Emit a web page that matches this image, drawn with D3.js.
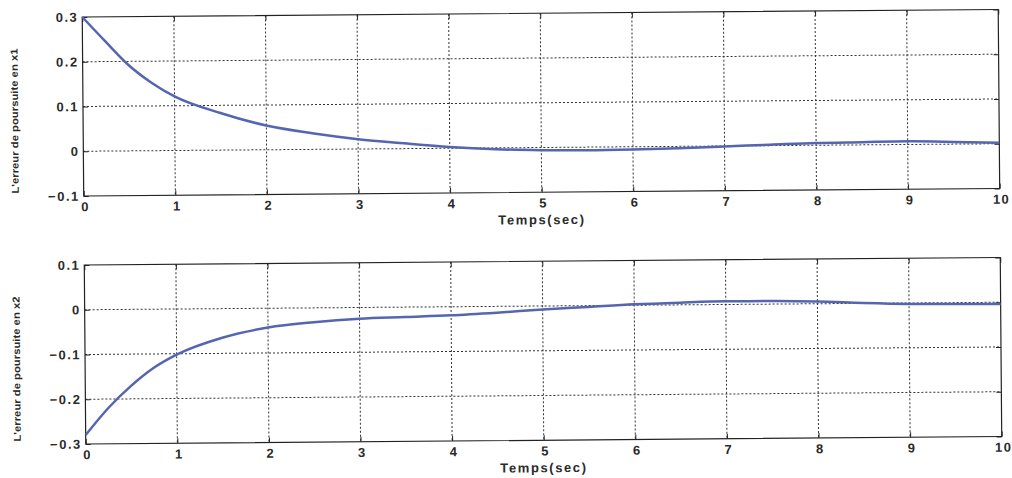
<!DOCTYPE html>
<html>
<head>
<meta charset="utf-8">
<script src="https://cdn.jsdelivr.net/npm/d3@7"></script>
<style>
  html, body { margin: 0; padding: 0; background: #fff; }
  svg { display: block; }
  .tick text { font-family: "Liberation Sans", Arial, sans-serif; font-weight: bold; font-size: 13px; letter-spacing: 1.5px; fill: #2a2a2a; }
  .xlab { font-family: "Liberation Sans", Arial, sans-serif; font-weight: bold; font-size: 13px; letter-spacing: 1.6px; fill: #2a2a2a; }
  .ylab { font-family: "Liberation Sans", Arial, sans-serif; font-weight: bold; font-size: 10px; fill: #2a2a2a; }
</style>
</head>
<body>
<script>
// Time samples (s)
const time = [0, 0.25, 0.5, 0.75, 1, 1.5, 2, 2.5, 3, 3.5, 4, 4.5, 5, 5.5, 6, 6.5, 7, 7.5, 8, 8.5, 9, 9.5, 10];
// Tracking error on x1
const errX1 = [0.3, 0.245, 0.192, 0.152, 0.121, 0.083, 0.054, 0.036, 0.022, 0.012, 0.003, -0.003, -0.006, -0.007, -0.006, -0.004, -0.001, 0.002, 0.005, 0.006, 0.007, 0.005, 0.002];
// Tracking error on x2
const errX2 = [-0.28, -0.22, -0.171, -0.131, -0.102, -0.065, -0.043, -0.032, -0.025, -0.022, -0.019, -0.014, -0.008, -0.003, 0.002, 0.005, 0.007, 0.007, 0.005, 0.001, -0.002, -0.003, -0.004];

const xTicks = [0, 1, 2, 3, 4, 5, 6, 7, 8, 9, 10];
const yTicksTop = [-0.1, 0, 0.1, 0.2, 0.3];
const yTicksBottom = [-0.3, -0.2, -0.1, 0, 0.1];
const yLabels = ["L'erreur de poursuite en x1", "L'erreur de poursuite en x2"];
const xLabel = "Temps(sec)";

const W = 1012, H = 478;
const svg = d3.select("body").append("svg").attr("width", W).attr("height", H);
// whole figure sits slightly tilted
const root = svg.append("g").attr("transform", "rotate(-0.47, 84, 230)");

const left = 84, right = 1000;
const panels = [
  { top: 17, bottom: 196, dom: [-0.1, 0.3], ticks: yTicksTop, data: errX1, label: yLabels[0] },
  { top: 265, bottom: 444, dom: [-0.3, 0.1], ticks: yTicksBottom, data: errX2, label: yLabels[1] }
];

const x = d3.scaleLinear().domain([0, 10]).range([left, right]);
const fmt = d => d === 0 ? "0" : d3.format(".1f")(d);

panels.forEach(p => {
  const y = d3.scaleLinear().domain(p.dom).range([p.bottom, p.top]);
  const g = root.append("g");

  // dotted grid
  g.append("g").selectAll("line").data(xTicks.slice(1, -1)).join("line")
    .attr("x1", d => x(d)).attr("x2", d => x(d)).attr("y1", p.top).attr("y2", p.bottom)
    .attr("stroke", "#333").attr("stroke-width", 1).attr("stroke-dasharray", "2,2");
  g.append("g").selectAll("line").data(p.ticks.slice(1, -1)).join("line")
    .attr("y1", d => y(d)).attr("y2", d => y(d)).attr("x1", left).attr("x2", right)
    .attr("stroke", "#333").attr("stroke-width", 1).attr("stroke-dasharray", "2,2");

  // axes with inward ticks
  g.append("g").attr("transform", `translate(0,${p.bottom})`)
    .call(d3.axisBottom(x).tickValues(xTicks).tickSizeInner(-5).tickSizeOuter(0).tickPadding(6).tickFormat(d3.format("d")))
    .selectAll(".tick text").attr("dx", "0.1em");
  g.append("g").attr("transform", `translate(${left},0)`)
    .call(d3.axisLeft(y).tickValues(p.ticks).tickSizeInner(-5).tickSizeOuter(0).tickPadding(4).tickFormat(fmt));
  g.append("g").attr("transform", `translate(0,${p.top})`)
    .call(d3.axisTop(x).tickValues(xTicks).tickSizeInner(-5).tickSizeOuter(0).tickFormat(""));
  g.append("g").attr("transform", `translate(${right},0)`)
    .call(d3.axisRight(y).tickValues(p.ticks).tickSizeInner(-5).tickSizeOuter(0).tickFormat(""));
  g.selectAll(".domain").remove();
  g.selectAll(".tick line").attr("stroke", "#222");

  // frame
  g.append("rect").attr("x", left).attr("y", p.top)
    .attr("width", right - left).attr("height", p.bottom - p.top)
    .attr("fill", "none").attr("stroke", "#222").attr("stroke-width", 1.2);

  // curve
  const line = d3.line().x((d, i) => x(time[i])).y(d => y(d)).curve(d3.curveMonotoneX);
  g.append("path").datum(p.data).attr("d", line)
    .attr("fill", "none").attr("stroke", "#5565b0").attr("stroke-width", 2.5);

  // labels
  g.append("text").attr("class", "xlab").attr("x", (left + right) / 2).attr("y", p.bottom + 32)
    .attr("text-anchor", "middle").text(xLabel);
  g.append("text").attr("class", "ylab")
    .attr("transform", `translate(19,${(p.top + p.bottom) / 2 + 14}) rotate(-90)`)
    .attr("text-anchor", "middle")
    .attr("textLength", 145).attr("lengthAdjust", "spacingAndGlyphs")
    .text(p.label);
});
</script>
</body>
</html>
